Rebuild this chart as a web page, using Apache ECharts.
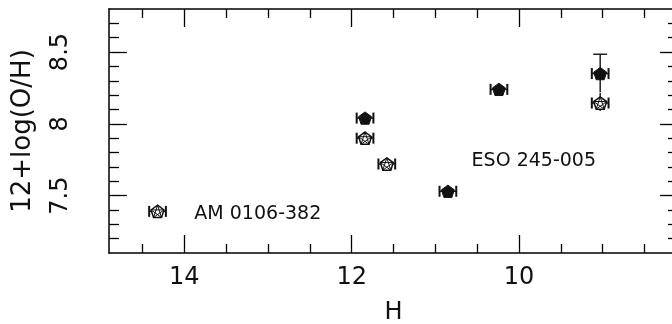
<!DOCTYPE html>
<html>
<head>
<meta charset="utf-8">
<script src="https://cdn.jsdelivr.net/npm/echarts@6/dist/echarts.min.js"></script>
<style>html,body{margin:0;padding:0;background:#fff}#c{width:672px;height:324px}</style>
</head>
<body>
<div id="c"></div>
<script>
// ---- data ----
const xMin = 8.1, xMax = 14.9;           // H axis (inverted)
const yMin = 7.1, yMax = 8.8;            // 12+log(O/H)
const xMajorTicks = [10, 12, 14];
const xMinorTicks = [8.5, 9, 9.5, 10.5, 11, 11.5, 12.5, 13, 13.5, 14.5];
const yMajorTicks = [7.5, 8, 8.5];
const yMinorTicks = [7.2, 7.3, 7.4, 7.6, 7.7, 7.8, 7.9, 8.1, 8.2, 8.3, 8.4, 8.6, 8.7];

// filled pentagons
const filledH    = [11.84, 10.85, 10.24, 9.03];
const filledOH   = [8.04, 7.53, 8.24, 8.35];
const filledHErr = [0.1, 0.1, 0.1, 0.1];
const filledOHErrUp   = [0, 0, 0, 0.135];
const filledOHErrDown = [0, 0, 0, 0.13];

// open (starred) pentagons
const openH    = [14.32, 11.84, 11.58, 9.03];
const openOH   = [7.39, 7.90, 7.72, 8.145];
const openHErr = [0.1, 0.1, 0.1, 0.1];
const openOHErrUp   = [0, 0, 0, 0.07];
const openOHErrDown = [0, 0, 0, 0.055];

// annotations
const annotationText = ['AM 0106-382', 'ESO 245-005'];
const annotationH    = [13.88, 10.567];
const annotationOH   = [7.373, 7.738];

const FONT = 'DejaVu Sans';
const INK = '#111';

function pent(cx, cy, r) {
  const pts = [];
  cy = cy + 0.095 * r;
  for (let i = 0; i < 5; i++) {
    const a = -Math.PI / 2 + i * 2 * Math.PI / 5;
    pts.push([cx + r * Math.cos(a), cy + r * Math.sin(a)]);
  }
  return pts;
}

function makeRender(filled) {
  return function (params, api) {
    const h = api.value(0), v = api.value(1), he = api.value(2), up = api.value(3), dn = api.value(4);
    const c = api.coord([h, v]);
    const l = api.coord([h + he, v]);
    const r = api.coord([h - he, v]);
    const children = [];
    const ls = { stroke: INK, lineWidth: 1.4 };
    const capH = 5.5;
    children.push({ type: 'line', shape: { x1: l[0], y1: c[1], x2: r[0], y2: c[1] }, style: ls });
    children.push({ type: 'line', shape: { x1: l[0], y1: c[1] - capH, x2: l[0], y2: c[1] + capH }, style: { stroke: INK, lineWidth: 2 } });
    children.push({ type: 'line', shape: { x1: r[0], y1: c[1] - capH, x2: r[0], y2: c[1] + capH }, style: { stroke: INK, lineWidth: 2 } });
    if (up > 0) {
      const t = api.coord([h, v + up]);
      children.push({ type: 'line', shape: { x1: c[0], y1: c[1], x2: c[0], y2: t[1] }, style: ls });
      if (filled) children.push({ type: 'line', shape: { x1: c[0] - 7, y1: t[1], x2: c[0] + 7, y2: t[1] }, style: ls });
    }
    if (dn > 0) {
      const b = api.coord([h, v - dn]);
      children.push({ type: 'line', shape: { x1: c[0], y1: c[1], x2: c[0], y2: b[1] }, style: ls });
    }
    const pts = pent(c[0], c[1], 6.8);
    if (filled) {
      children.push({ type: 'polygon', shape: { points: pts }, style: { fill: INK, stroke: INK, lineWidth: 1 } });
    } else {
      children.push({ type: 'polygon', shape: { points: pts }, style: { fill: '#fff', stroke: INK, lineWidth: 1.5 } });
      const star = [pts[0], pts[2], pts[4], pts[1], pts[3], pts[0]];
      children.push({ type: 'polyline', shape: { points: star }, style: { fill: null, stroke: INK, lineWidth: 1 } });
    }
    return { type: 'group', children: children };
  };
}

function labelRender(params, api) {
  const c = api.coord([api.value(0), api.value(1)]);
  return {
    type: 'text',
    x: c[0], y: c[1],
    style: { text: annotationText[params.dataIndex], fill: INK, font: '19px "' + FONT + '"', textAlign: 'left', textVerticalAlign: 'middle' }
  };
}

const filledData = filledH.map((h, i) => [h, filledOH[i], filledHErr[i], filledOHErrUp[i], filledOHErrDown[i]]);
const openData = openH.map((h, i) => [h, openOH[i], openHErr[i], openOHErrUp[i], openOHErrDown[i]]);
const annData = annotationH.map((h, i) => [h, annotationOH[i]]);

const lineStyle = { color: '#000', width: 1.5 };
const tickStyle = { color: '#000', width: 1.3 };

function xAx(pos, major, labels) {
  return {
    type: 'value', gridIndex: 0, position: pos, min: xMin, max: xMax, inverse: true,
    axisLine: { show: major, onZero: false, lineStyle: lineStyle },
    axisTick: { show: true, inside: true, length: major ? 18 : 9, customValues: major ? xMajorTicks : xMinorTicks, lineStyle: tickStyle },
    axisLabel: labels ? { show: true, customValues: xMajorTicks, margin: 13, fontSize: 24, fontFamily: FONT, color: INK } : { show: false },
    splitLine: { show: false },
    name: labels ? 'H' : '', nameLocation: 'middle', nameGap: 48,
    nameTextStyle: { fontSize: 24, fontFamily: FONT, color: INK },
    nameMoveOverlap: false
  };
}
function yAx(pos, major, labels) {
  return {
    type: 'value', gridIndex: 0, position: pos, min: yMin, max: yMax,
    axisLine: { show: major, onZero: false, lineStyle: lineStyle },
    axisTick: { show: true, inside: true, length: major ? 18 : 10, customValues: major ? yMajorTicks : yMinorTicks, lineStyle: tickStyle },
    axisLabel: labels ? { show: true, customValues: yMajorTicks, rotate: 90, margin: 36, fontSize: 24, fontFamily: FONT, color: INK } : { show: false },
    splitLine: { show: false },
    name: labels ? '12+log(O/H)' : '', nameLocation: 'middle', nameGap: 73, nameRotate: 90,
    nameTextStyle: { fontSize: 26, fontFamily: FONT, color: INK },
    nameMoveOverlap: false
  };
}

const chart = echarts.init(document.getElementById('c'), null, { renderer: 'canvas' });
chart.setOption({
  animation: false,
  backgroundColor: '#fff',
  grid: { left: 109, top: 9, width: 569, height: 244, containLabel: false, outerBoundsMode: 'none' },
  xAxis: [xAx('bottom', true, true), xAx('bottom', false, false), xAx('top', true, false), xAx('top', false, false)],
  yAxis: [yAx('left', true, true), yAx('left', false, false), yAx('right', true, false), yAx('right', false, false)],
  series: [
    { type: 'custom', name: 'open', xAxisIndex: 0, yAxisIndex: 0, data: openData, renderItem: makeRender(false), clip: false, z: 3 },
    { type: 'custom', name: 'filled', xAxisIndex: 0, yAxisIndex: 0, data: filledData, renderItem: makeRender(true), clip: false, z: 4 },
    { type: 'custom', name: 'labels', xAxisIndex: 0, yAxisIndex: 0, data: annData, renderItem: labelRender, z: 5 }
  ]
});
</script>
</body>
</html>
